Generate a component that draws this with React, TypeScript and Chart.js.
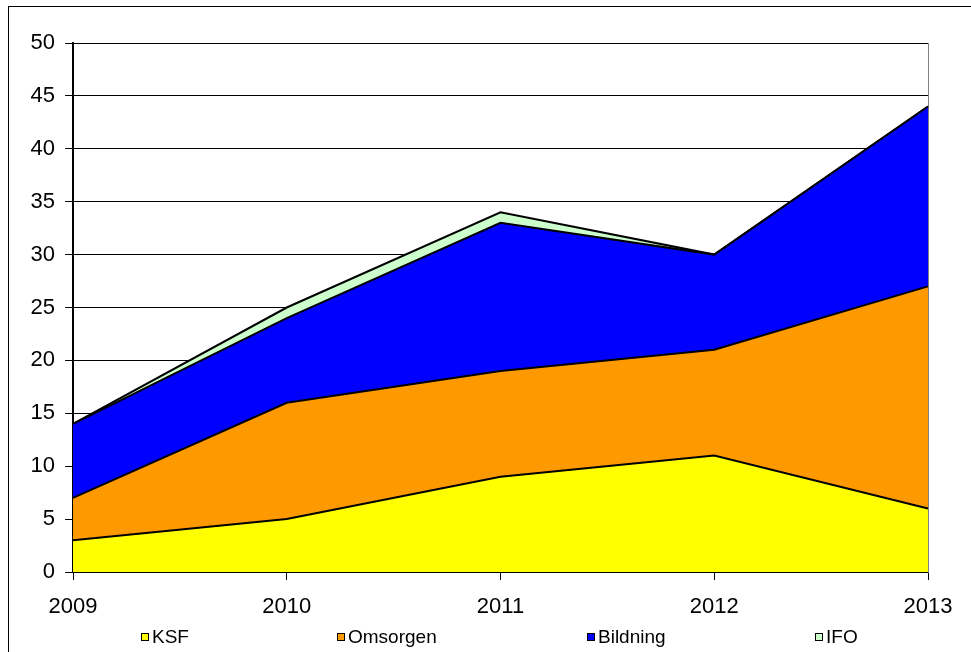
import React, { useEffect, useRef } from "react";
import { Chart, registerables } from "chart.js";

Chart.register(...registerables);

const years = ["2009", "2010", "2011", "2012", "2013"];
const ksf = [3, 5, 9, 11, 6];
const omsorgen = [4, 11, 10, 10, 21];
const bildning = [7, 8, 14, 9, 17];
const ifo = [0, 1, 1, 0, 0];

const seriesNames = ["KSF", "Omsorgen", "Bildning", "IFO"];
const seriesColors = ["#FFFF00", "#FF9900", "#0000FF", "#CCFFCC"];
const legendX = [141, 337, 587, 815];

const FONT = "'Liberation Sans', Arial, sans-serif";

export default function App() {
  const ref = useRef<HTMLCanvasElement | null>(null);

  useEffect(() => {
    const canvas = ref.current;
    if (!canvas) return;
    const values = [ksf, omsorgen, bildning, ifo];

    const framePlugin = {
      id: "frame",
      afterDraw(chart: any) {
        const ctx = chart.ctx;
        ctx.save();
        ctx.strokeStyle = "#000";
        ctx.lineWidth = 1;
        ctx.strokeRect(8.5, 6.5, 1200, 1200);
        // legend
        ctx.font = `19px ${FONT}`;
        ctx.textBaseline = "middle";
        ctx.textAlign = "left";
        const y = 637;
        seriesNames.forEach((name, i) => {
          const x = legendX[i];
          ctx.fillStyle = seriesColors[i];
          ctx.fillRect(x + 0.5, y - 3.5, 7, 7);
          ctx.strokeStyle = "#000";
          ctx.strokeRect(x + 0.5, y - 3.5, 7, 7);
          ctx.fillStyle = "#000";
          ctx.fillText(name, x + 11, y + 1);
        });
        ctx.restore();
      },
    };

    const chart = new Chart(canvas, {
      type: "line",
      data: {
        labels: years,
        datasets: seriesNames.map((name, i) => ({
          label: name,
          data: values[i],
          backgroundColor: seriesColors[i],
          borderColor: "#000",
          borderWidth: 2,
          pointRadius: 0,
          tension: 0,
          fill: i === 0 ? "origin" : "-1",
        })),
      },
      options: {
        responsive: false,
        animation: false,
        devicePixelRatio: 1,
        layout: { padding: { top: 43, left: 0, right: 0, bottom: 0 } },
        plugins: {
          legend: { display: false },
          tooltip: { enabled: false },
        },
        scales: {
          x: {
            type: "category",
            offset: false,
            grid: {
              display: true,
              drawOnChartArea: false,
              drawTicks: true,
              tickLength: 8,
              color: "#000",
            },
            border: { display: true, color: "#000", width: 1 },
            ticks: {
              color: "#000",
              font: { family: FONT, size: 22 },
              padding: 14,
              maxRotation: 0,
              autoSkip: false,
            },
            afterFit(scale: any) {
              scale.height = 80;
            },
          },
          y: {
            stacked: true,
            min: 0,
            max: 50,
            ticks: {
              stepSize: 5,
              color: "#000",
              font: { family: FONT, size: 22 },
              padding: 10,
            },
            grid: {
              color: "#000",
              lineWidth: 1,
              tickLength: 8,
            },
            border: { display: true, color: "#000", width: 2 },
            afterFit(scale: any) {
              scale.width = 73;
            },
          },
          y2: {
            position: "right",
            display: true,
            min: 0,
            max: 50,
            grid: { display: false, drawTicks: false },
            ticks: { display: false },
            border: { display: true, color: "#808080", width: 1 },
            afterFit(scale: any) {
              scale.width = 43;
            },
          },
        },
      },
      plugins: [framePlugin],
    });

    return () => chart.destroy();
  }, []);

  return (
    <div style={{ position: "absolute", left: 0, top: 0, width: 971, height: 652, background: "#fff" }}>
      <canvas ref={ref} width={971} height={652} style={{ width: 971, height: 652, display: "block" }} />
    </div>
  );
}
